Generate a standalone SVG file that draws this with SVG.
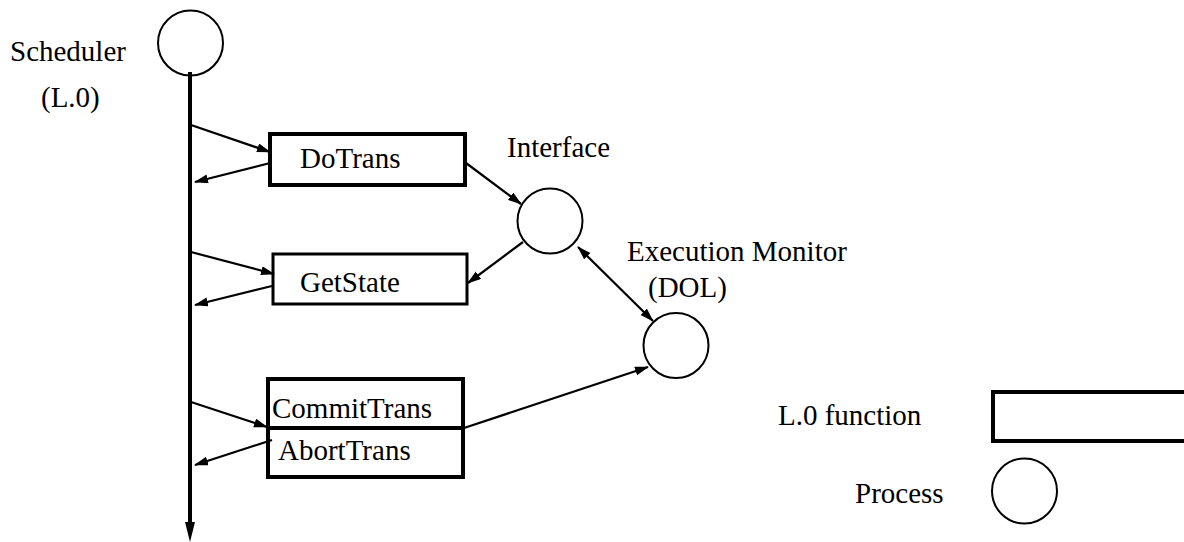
<svg xmlns="http://www.w3.org/2000/svg" width="1184" height="542" viewBox="0 0 1184 542">
<style>
text{font-family:"Liberation Serif","Times New Roman",serif;font-size:29px;fill:#000}
.box{fill:#fff;stroke:#000;stroke-width:4}
.proc{fill:#fff;stroke:#000;stroke-width:2}
.conn{stroke:#000;stroke-width:2.2;fill:none;marker-end:url(#ah)}
</style>
<defs>
<marker id="ah" markerUnits="userSpaceOnUse" markerWidth="14" markerHeight="10" refX="13" refY="4.5" orient="auto-start-reverse">
<path d="M0,0 L14,4.5 L0,9 z" fill="#000"/>
</marker>
</defs>
<rect width="1184" height="542" fill="#fff"/>
<g id="scheduler">
<circle class="proc" cx="190.5" cy="43" r="32.5"/>
<text x="10" y="61">Scheduler</text>
<text x="41" y="107">(L.0)</text>
</g>
<g id="doTrans">
<rect class="box" x="270" y="134" width="195" height="51"/>
<text x="300" y="168">DoTrans</text>
</g>
<g id="getState">
<rect class="box" x="273" y="254" width="194" height="50" style="stroke-width:3"/>
<text x="300" y="292">GetState</text>
</g>
<g id="commitAbort">
<rect class="box" x="268" y="379" width="195" height="98"/>
<line x1="268" y1="428" x2="463" y2="428" stroke="#000" stroke-width="4"/>
<text x="272" y="418">CommitTrans</text>
<text x="278" y="460">AbortTrans</text>
</g>
<g id="interface">
<circle class="proc" cx="550" cy="221" r="32.5"/>
<text x="507" y="157">Interface</text>
</g>
<g id="execMonitor">
<circle class="proc" cx="676" cy="345.5" r="32.5"/>
<text x="627" y="261">Execution Monitor</text>
<text x="648" y="297">(DOL)</text>
</g>
<g id="legend">
<text x="778" y="425">L.0 function</text>
<rect class="box" x="993" y="392" width="200" height="49"/>
<text x="855" y="503">Process</text>
<circle class="proc" cx="1024.5" cy="491" r="32.5"/>
</g>
<g id="connectors">
<line x1="190" y1="72" x2="190" y2="524" stroke="#000" stroke-width="4"/>
<polygon points="185,522 195,522 190,542" fill="#000"/>
<line class="conn" x1="191" y1="125" x2="270" y2="152"/>
<line class="conn" x1="270" y1="163" x2="195" y2="182"/>
<line class="conn" x1="191" y1="252" x2="274" y2="274"/>
<line class="conn" x1="272" y1="286" x2="195" y2="305"/>
<line class="conn" x1="191" y1="402" x2="267" y2="427"/>
<line class="conn" x1="272" y1="440" x2="195" y2="465"/>
<line class="conn" x1="466" y1="163" x2="521" y2="204"/>
<line class="conn" x1="523" y1="242" x2="468" y2="283"/>
<line class="conn" x1="578" y1="247" x2="653" y2="321" style="marker-start:url(#ah)"/>
<line class="conn" x1="464" y1="428" x2="648" y2="367"/>
</g>
</svg>
